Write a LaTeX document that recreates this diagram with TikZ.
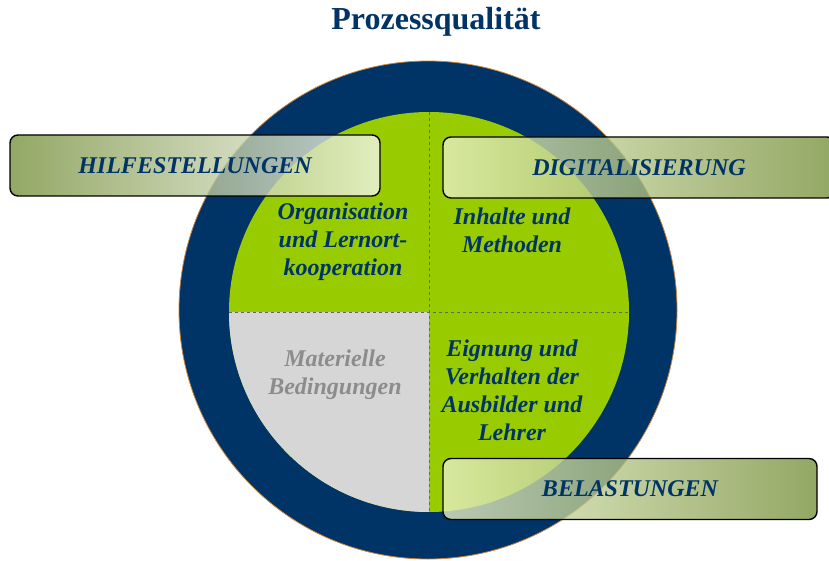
\documentclass[tikz,border=0pt]{standalone}
\usepackage{fontspec}
\setmainfont{Liberation Serif}
\definecolor{navy}{HTML}{003366}
\definecolor{lime}{HTML}{99CC00}
\definecolor{pale}{HTML}{D6D6D6}
\definecolor{greytext}{HTML}{8C8C8C}
\definecolor{olive}{HTML}{78923E}
\definecolor{cream}{HTML}{E8F0C6}
\definecolor{rim}{HTML}{C8853A}
\begin{document}
\begin{tikzpicture}[
    x=1pt, y=-1pt,
    topic/.style={
        font=\fontsize{24}{28}\selectfont\bfseries\itshape,
        text=navy,
        align=center
    },
    banner/.style={
        rounded corners=8pt,
        draw=black,
        line width=1.4pt,
        minimum height=61pt,
        fill opacity=0.8,
        text opacity=1,
        font=\fontsize{24}{26}\selectfont\bfseries\itshape,
        text=navy
    }
]
\clip (0,0) rectangle (829,561);

\node[font=\fontsize{32}{36}\selectfont\bfseries, text=navy] (title) at (436,22) {Prozessqualität};

% ring and quarters
\fill[navy, draw=rim, line width=0.8pt] (428,310) circle (249);
\fill[lime] (429,312) circle (200);
\begin{scope}
    \clip (429,312) circle (200);
    \fill[pale] (229,312) rectangle (429,512);
\end{scope}
\draw[dashed, black!60, line width=0.7pt] (429,112) -- (429,512);
\draw[dashed, black!60, line width=0.7pt] (229,312) -- (629,312);

\node[topic] (orga) at (343,242) {Organisation\\und Lernort-\\kooperation};
\node[topic] (inhalt) at (512,230) {Inhalte und\\Methoden};
\node[topic, text=greytext] (material) at (335,375) {Materielle\\Bedingungen};
\node[topic] (eignung) at (512,390) {Eignung und\\Verhalten der\\Ausbilder und\\Lehrer};

% banners
\node[banner, minimum width=370pt, shading=axis, shading angle=-70,
      left color=olive, right color=white!92!olive] (hilfe) at (195,165.5) {HILFESTELLUNGEN};
\node[banner, minimum width=392pt, shading=axis, shading angle=-70,
      left color=cream, right color=olive] (digital) at (639,167.5) {DIGITALISIERUNG};
\node[banner, minimum width=374pt, shading=axis, shading angle=-70,
      left color=cream, right color=olive] (belast) at (630,489) {BELASTUNGEN};

\end{tikzpicture}
\end{document}
